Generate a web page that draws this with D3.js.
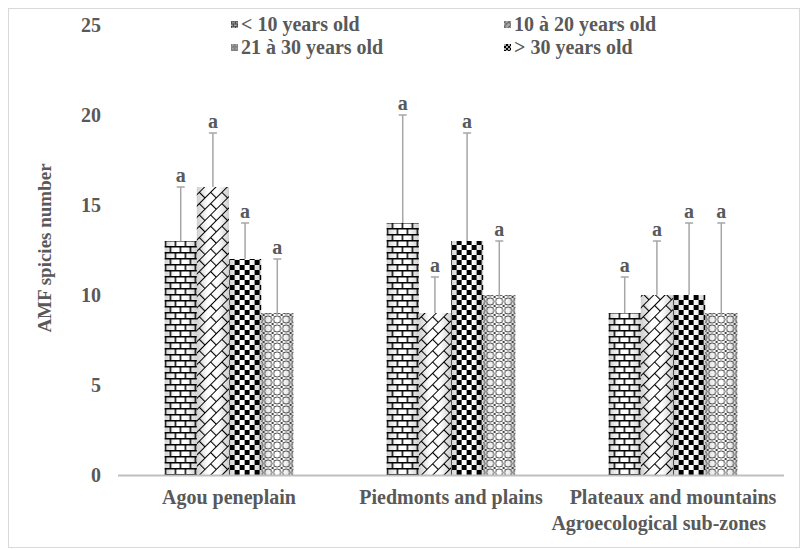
<!DOCTYPE html>
<html>
<head>
<meta charset="utf-8">
<script src="https://cdn.jsdelivr.net/npm/d3@7"></script>
<style>
  body { margin: 0; background: #fff; }
  text { font-family: "Liberation Serif", "Times New Roman", serif; font-weight: bold; fill: #595959; }
</style>
</head>
<body>
<svg id="chart" width="802" height="550"></svg>
<script>
// data
const zones = ['Agou peneplain', 'Piedmonts and plains', 'Plateaux and mountains']
const ages = ['< 10 years old', '10 à 20 years old', '21 à 30 years old', '> 30 years old']
const means = [
  [13, 16, 12, 9],
  [14, 9, 13, 10],
  [9, 10, 10, 9]
]
const upper = [
  [16, 19, 14, 12],
  [20, 11, 19, 13],
  [11, 13, 14, 14]
]
const letters = [
  ['a', 'a', 'a', 'a'],
  ['a', 'a', 'a', 'a'],
  ['a', 'a', 'a', 'a']
]
const yTicks = [0, 5, 10, 15, 20, 25]
const patternIds = ['brick', 'dbrick', 'checker', 'sphere']
// legend is row-major, marker patterns as shown in the picture
const legendPatterns = ['brickS', 'dbrickS', 'sphereS', 'checkerS']

const svg = d3.select('#chart')
const defs = svg.append('defs')

// cylinder-like shading behind the patterns
const grad = defs.append('linearGradient').attr('id', 'shade')
  .attr('x1', 0).attr('x2', 1).attr('y1', 0).attr('y2', 0)
grad.append('stop').attr('offset', '0%').attr('stop-color', '#cfcfcf')
grad.append('stop').attr('offset', '35%').attr('stop-color', '#ffffff')
grad.append('stop').attr('offset', '65%').attr('stop-color', '#ffffff')
grad.append('stop').attr('offset', '100%').attr('stop-color', '#cfcfcf')

function brickPattern(id, w, h, sw, tf) {
  const p = defs.append('pattern').attr('id', id)
    .attr('patternUnits', 'userSpaceOnUse').attr('width', w).attr('height', h)
    .attr('patternTransform', tf)
  const hh = h / 2
  p.append('path')
    .attr('d', `M0,${sw / 2}H${w} M0,${hh + sw / 2}H${w} M${sw / 2},0V${hh} M${w / 2 + sw / 2},${hh}V${h}`)
    .attr('stroke', '#000').attr('stroke-width', sw).attr('fill', 'none')
}

function makePatterns(suffix, scale) {
  brickPattern('brick' + suffix, 10, 12, 1.5, `scale(${scale})`)
  brickPattern('dbrick' + suffix, 16, 16, 1.1, `scale(${scale}) rotate(-45)`)

  const checker = defs.append('pattern').attr('id', 'checker' + suffix)
    .attr('patternUnits', 'userSpaceOnUse').attr('width', 10).attr('height', 10)
    .attr('patternTransform', `scale(${scale})`)
  checker.append('rect').attr('x', 0).attr('y', 0).attr('width', 5).attr('height', 5).attr('fill', '#000')
  checker.append('rect').attr('x', 5).attr('y', 5).attr('width', 5).attr('height', 5).attr('fill', '#000')

  const sphere = defs.append('pattern').attr('id', 'sphere' + suffix)
    .attr('patternUnits', 'userSpaceOnUse').attr('width', 9).attr('height', 9)
    .attr('patternTransform', `scale(${scale})`)
  sphere.append('circle').attr('cx', 4.5).attr('cy', 4.5).attr('r', 3.6)
    .attr('stroke', '#444').attr('stroke-width', 1).attr('fill', 'none')
  sphere.append('path').attr('d', 'M0,0L1.5,1.5 M9,0L7.5,1.5 M0,9L1.5,7.5 M9,9L7.5,7.5')
    .attr('stroke', '#444').attr('stroke-width', 1)
}
makePatterns('', 1)
makePatterns('S', 0.4)

// outer frame
svg.append('rect').attr('x', 8.5).attr('y', 8.5).attr('width', 791).attr('height', 539)
  .attr('fill', 'none').attr('stroke', '#d9d9d9')

const x = d3.scaleBand().domain(zones).range([118, 784]).paddingInner(0.42).paddingOuter(0.21)
const xs = d3.scaleBand().domain(d3.range(ages.length)).range([0, x.bandwidth()])
const y = d3.scaleLinear().domain([0, 25]).range([475, 25])

// y tick labels (no axis line)
svg.append('g').selectAll('text').data(yTicks).join('text')
  .attr('x', 101).attr('y', d => y(d)).attr('dy', '0.35em')
  .attr('text-anchor', 'end').attr('font-size', 20).text(d => d)

// bars
const groups = svg.append('g').selectAll('g').data(zones).join('g')
  .attr('transform', d => `translate(${x(d)},0)`)

groups.each(function (zone, zi) {
  const g = d3.select(this)
  const rows = means[zi].map((v, i) => ({ v, up: upper[zi][i], lab: letters[zi][i], i }))
  g.selectAll('rect.bg').data(rows).join('rect').attr('class', 'bg')
    .attr('x', d => xs(d.i)).attr('width', xs.bandwidth())
    .attr('y', d => y(d.v)).attr('height', d => y(0) - y(d.v))
    .attr('fill', 'url(#shade)')
  g.selectAll('rect.pat').data(rows).join('rect').attr('class', 'pat')
    .attr('x', d => xs(d.i)).attr('width', xs.bandwidth())
    .attr('y', d => y(d.v)).attr('height', d => y(0) - y(d.v))
    .attr('fill', d => `url(#${patternIds[d.i]})`)
  // error bars
  g.selectAll('line.err').data(rows).join('line').attr('class', 'err')
    .attr('x1', d => xs(d.i) + xs.bandwidth() / 2).attr('x2', d => xs(d.i) + xs.bandwidth() / 2)
    .attr('y1', d => y(d.v)).attr('y2', d => y(d.up))
    .attr('stroke', '#a6a6a6').attr('stroke-width', 1.5)
  g.selectAll('line.cap').data(rows).join('line').attr('class', 'cap')
    .attr('x1', d => xs(d.i) + xs.bandwidth() / 2 - 4).attr('x2', d => xs(d.i) + xs.bandwidth() / 2 + 4)
    .attr('y1', d => y(d.up)).attr('y2', d => y(d.up))
    .attr('stroke', '#a6a6a6').attr('stroke-width', 1.5)
  g.selectAll('text.lab').data(rows).join('text').attr('class', 'lab')
    .attr('x', d => xs(d.i) + xs.bandwidth() / 2).attr('y', d => y(d.up) - 5)
    .attr('text-anchor', 'middle').attr('font-size', 20).text(d => d.lab)
})

// x axis line
svg.append('line').attr('x1', 118).attr('x2', 784).attr('y1', y(0) + 0.5).attr('y2', y(0) + 0.5)
  .attr('stroke', '#bfbfbf').attr('stroke-width', 2)

// category labels
svg.append('g').selectAll('text').data(zones).join('text')
  .attr('x', d => x(d) + x.bandwidth() / 2).attr('y', 504)
  .attr('text-anchor', 'middle').attr('font-size', 20).text(d => d)

// axis titles
svg.append('text').attr('x', 766).attr('y', 530).attr('text-anchor', 'end')
  .attr('font-size', 20).text('Agroecological sub-zones')
svg.append('text').attr('transform', 'translate(51,248) rotate(-90)')
  .attr('text-anchor', 'middle').attr('font-size', 19).text('AMF spicies number')

// legend
const legendPos = [[231, 31], [504, 31], [231, 54], [504, 54]]
const legend = svg.append('g').selectAll('g').data(ages).join('g')
  .attr('transform', (d, i) => `translate(${legendPos[i][0]},${legendPos[i][1]})`)
legend.append('rect').attr('x', 0).attr('y', -10).attr('width', 7).attr('height', 7)
  .attr('fill', '#aaa')
legend.append('rect').attr('x', 0).attr('y', -10).attr('width', 7).attr('height', 7)
  .attr('fill', (d, i) => `url(#${legendPatterns[i]})`)
legend.append('text').attr('x', 10).attr('y', 0).attr('font-size', 20).text(d => d)
</script>
</body>
</html>
